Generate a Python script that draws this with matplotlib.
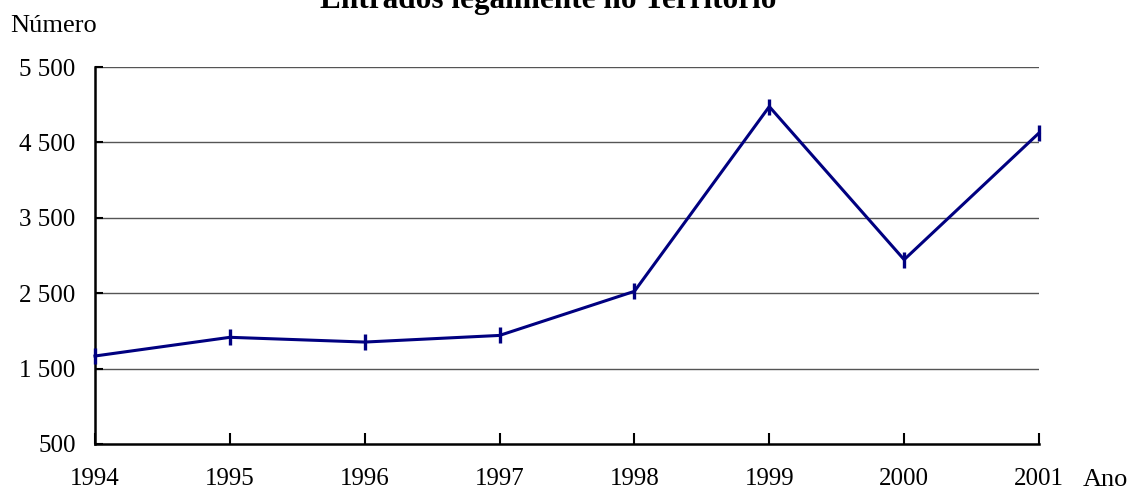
import matplotlib
matplotlib.use("Agg")
import matplotlib.pyplot as plt

years = [1994, 1995, 1996, 1997, 1998, 1999, 2000, 2001]
values = [1667, 1915, 1852, 1940, 2525, 4975, 2945, 4625]
yticks = [500, 1500, 2500, 3500, 4500, 5500]
ytick_labels = ["500", "1 500", "2 500", "3 500", "4 500", "5 500"]
title = "Entrados legalmente no Território"

plt.rcParams['font.family'] = ['Liberation Serif', 'DejaVu Serif']

W, H = 1134, 491
fig = plt.figure(figsize=(W / 100, H / 100), dpi=100)
ax = fig.add_axes([95 / W, 1 - 444 / H, (1039 - 95) / W, (444 - 67) / H])

ax.set_xlim(years[0], years[-1])
ax.set_ylim(yticks[0], yticks[-1])

for v in yticks[1:]:
    ax.axhline(v, color="#555555", lw=1.0, zorder=1)

ax.plot(years, values, color="#000080", lw=2.2, marker="|", markersize=11,
        markeredgewidth=2.4, zorder=3, clip_on=False)

for s in ["top", "right"]:
    ax.spines[s].set_visible(False)
ax.spines["left"].set_linewidth(1.8)
ax.spines["bottom"].set_linewidth(1.8)

ax.set_xticks(years)
ax.set_xticklabels([str(y) for y in years])
ax.set_yticks(yticks)
ax.set_yticklabels(ytick_labels)
ax.tick_params(axis="x", direction="in", length=8, width=1.5, pad=17, labelsize=18)
ax.tick_params(axis="y", direction="in", length=6, width=1.5, pad=14, labelsize=18)

fig.text(10 / W, 1 - 32 / H, "Número", fontsize=19, ha="left", va="baseline")
fig.text(1083 / W, 1 - 486 / H, "Ano", fontsize=19, ha="left", va="baseline")
fig.text(548 / W, 1 - 8 / H, title, fontsize=22.5, fontweight="bold",
         ha="center", va="baseline")

fig.savefig("out.png", dpi=100)
